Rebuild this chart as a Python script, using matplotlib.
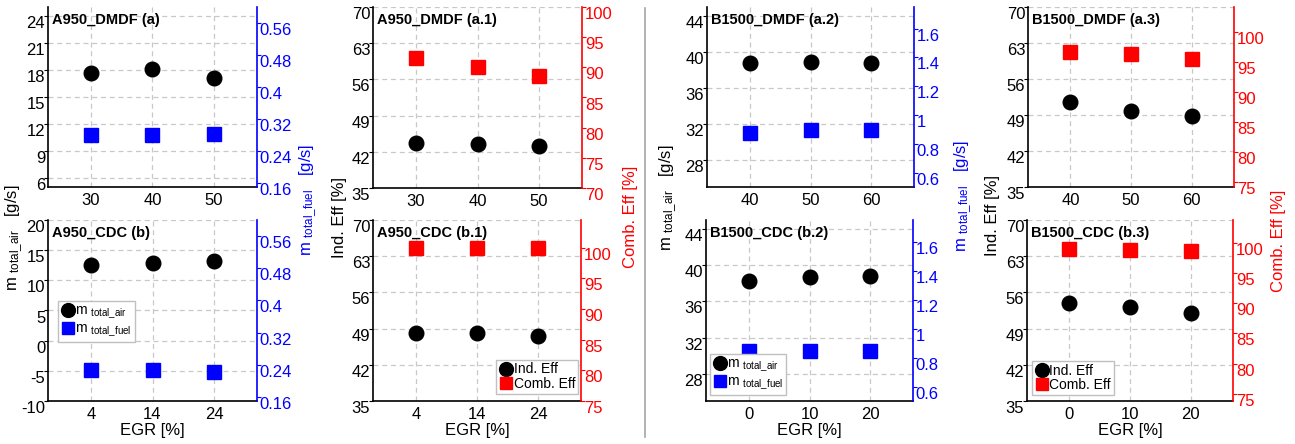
import numpy as np
import matplotlib
matplotlib.use("Agg")
import matplotlib.pyplot as plt
from matplotlib.lines import Line2D
from matplotlib.ticker import FuncFormatter

plt.rcParams['font.family'] = ['Liberation Sans', 'DejaVu Sans']
plt.rcParams['mathtext.fontset'] = 'custom'
plt.rcParams['mathtext.rm'] = 'Liberation Sans'
plt.rcParams['mathtext.it'] = 'Liberation Sans:italic'
plt.rcParams['mathtext.bf'] = 'Liberation Sans:bold'

# A950 DMDF
egr_a950_dmdf = [30, 40, 50]
air_a950_dmdf = [17.7, 18.1, 17.1]
fuel_a950_dmdf = [0.280, 0.280, 0.283]
ind_a950_dmdf = [43.75, 43.5, 43.2]
comb_a950_dmdf = [91.5, 90.0, 88.5]

# B1500 DMDF
egr_b1500_dmdf = [40, 50, 60]
air_b1500_dmdf = [38.8, 38.9, 38.8]
fuel_b1500_dmdf = [0.875, 0.896, 0.896]
ind_b1500_dmdf = [51.5, 49.8, 48.8]
comb_b1500_dmdf = [96.7, 96.4, 95.5]

# A950 CDC
egr_a950_cdc = [4, 14, 24]
air_a950_cdc = [12.5, 12.8, 13.2]
fuel_a950_cdc = [0.227, 0.226, 0.222]
ind_a950_cdc = [48.2, 48.2, 47.6]
comb_a950_cdc = [100.0, 100.0, 100.0]

# B1500 CDC
egr_b1500_cdc = [0, 10, 20]
air_b1500_cdc = [38.3, 38.7, 38.8]
fuel_b1500_cdc = [0.847, 0.847, 0.845]
ind_b1500_cdc = [53.9, 53.1, 52.1]
comb_b1500_cdc = [99.0, 98.8, 98.7]

AIR = r'm $_{\rm total\_air}$'
FUEL = r'm $_{\rm total\_fuel}$'

fig = plt.figure(figsize=(12.95, 4.44), dpi=100)
W, H = 1295.0, 444.0

fmt = FuncFormatter(lambda v, p: f'{round(v, 4):g}')


def panel(px, py, x, y_left, y_right, rcol, xlim, xticks, llim, lticks, rlim, rticks,
          title, names=None, leg_loc=None, leg_anchor=None, egr_label=False):
    # px, py = (left, right), (top, bottom) in pixels
    rect = [px[0] / W, 1 - py[1] / H, (px[1] - px[0]) / W, (py[1] - py[0]) / H]
    ax = fig.add_axes(rect)
    ax2 = ax.twinx()

    h1, = ax.plot(x, y_left, 'o', color='k', ms=10.5)
    h2, = ax2.plot(x, y_right, 's', color=rcol, ms=9.5)

    ax.set_xlim(xlim)
    ax.set_xticks(xticks)
    ax.set_ylim(llim)
    ax.set_yticks(lticks)
    ax2.set_ylim(rlim)
    ax2.set_yticks(rticks)
    ax.yaxis.set_major_formatter(fmt)
    ax2.yaxis.set_major_formatter(fmt)

    ax.grid(True, color='#c8c8c8', ls=(0, (4, 3)), lw=0.9)
    ax.set_axisbelow(True)

    ax.spines['top'].set_visible(False)
    ax.spines['right'].set_visible(False)
    ax2.spines['top'].set_visible(False)
    ax2.spines['left'].set_visible(False)
    ax2.spines['bottom'].set_visible(False)
    ax2.spines['right'].set_color(rcol)
    for sp in ('left', 'bottom'):
        ax.spines[sp].set_linewidth(1.2)
    ax2.spines['right'].set_linewidth(1.2)

    ax.tick_params(axis='x', length=0, pad=4, labelsize=12)
    ax.tick_params(axis='y', direction='out', length=3, pad=-1, labelsize=12)
    ax2.tick_params(axis='y', direction='out', length=3, pad=-1, labelsize=12,
                    colors=rcol)
    plt.setp(ax.get_yticklabels(), va='top')
    plt.setp(ax2.get_yticklabels(), va='top')

    ax.text(0.02, 0.965, title, transform=ax.transAxes, fontsize=10.5,
            fontweight='bold', va='top', ha='left', zorder=5)

    if egr_label:
        ax.set_xlabel('EGR [%]', fontsize=12, labelpad=1)

    if names is not None:
        leg = ax2.legend([h1, h2], names, loc=leg_loc, bbox_to_anchor=leg_anchor,
                         borderaxespad=0, fontsize=10, frameon=True, fancybox=False,
                         edgecolor='#c0c0c0', framealpha=1, handlelength=1.0,
                         handletextpad=0.05, borderpad=0.2, labelspacing=0.05,
                         markerscale=0.95)
        leg.get_frame().set_linewidth(1.0)
    return ax, ax2


# top row
panel((48, 257), (7, 187), egr_a950_dmdf, air_a950_dmdf, fuel_a950_dmdf, 'blue',
      (23, 57), [30, 40, 50], (5, 25), np.arange(6, 25, 3),
      (0.15, 0.6), np.arange(0.16, 0.57, 0.08), 'A950_DMDF (a)')
panel((373, 582), (7, 188), egr_a950_dmdf, ind_a950_dmdf, comb_a950_dmdf, 'red',
      (23, 57), [30, 40, 50], (35, 70), np.arange(35, 71, 7),
      (70, 100), np.arange(70, 101, 5), 'A950_DMDF (a.1)')
panel((707, 914), (7, 187), egr_b1500_dmdf, air_b1500_dmdf, fuel_b1500_dmdf, 'blue',
      (33, 67), [40, 50, 60], (25, 45), np.arange(28, 45, 4),
      (0.5, 1.75), np.arange(0.6, 1.61, 0.2), 'B1500_DMDF (a.2)')
panel((1028, 1234), (7, 187), egr_b1500_dmdf, ind_b1500_dmdf, comb_b1500_dmdf, 'red',
      (33, 67), [40, 50, 60], (35, 70), np.arange(35, 71, 7),
      (74.2, 104.2), np.arange(75, 101, 5), 'B1500_DMDF (a.3)')

# bottom row
panel((48, 257), (220, 401), egr_a950_cdc, air_a950_cdc, fuel_a950_cdc, 'blue',
      (-3, 31), [4, 14, 24], (-10, 20), np.arange(-10, 21, 5),
      (0.15, 0.6), np.arange(0.16, 0.57, 0.08), 'A950_CDC (b)',
      names=[AIR, FUEL], leg_loc='lower left', leg_anchor=(0.048, 0.326), egr_label=True)
panel((373, 581), (220, 401), egr_a950_cdc, ind_a950_cdc, comb_a950_cdc, 'red',
      (-3, 31), [4, 14, 24], (35, 70), np.arange(35, 71, 7),
      (75, 104.5), np.arange(75, 101, 5), 'A950_CDC (b.1)',
      names=['Ind. Eff', 'Comb. Eff'], leg_loc='lower right', leg_anchor=(0.986, 0.039),
      egr_label=True)
panel((706, 913), (220, 401), egr_b1500_cdc, air_b1500_cdc, fuel_b1500_cdc, 'blue',
      (-7, 27), [0, 10, 20], (25, 45), np.arange(28, 45, 4),
      (0.5, 1.75), np.arange(0.6, 1.61, 0.2), 'B1500_CDC (b.2)',
      names=[AIR, FUEL], leg_loc='lower left', leg_anchor=(0.019, 0.033), egr_label=True)
panel((1027, 1233), (220, 401), egr_b1500_cdc, ind_b1500_cdc, comb_b1500_cdc, 'red',
      (-7, 27), [0, 10, 20], (35, 70), np.arange(35, 71, 7),
      (73.8, 103.8), np.arange(75, 101, 5), 'B1500_CDC (b.3)',
      names=['Ind. Eff', 'Comb. Eff'], leg_loc='lower left', leg_anchor=(0.024, 0.033),
      egr_label=True)

# shared y labels between the rows
ylabels = [
    (14, 238, AIR + '   [g/s]', 'k'),
    (308, 200, FUEL + '   [g/s]', 'blue'),
    (340, 218, 'Ind. Eff [%]', 'k'),
    (630, 217, 'Comb. Eff [%]', 'red'),
    (668, 198, AIR + '   [g/s]', 'k'),
    (963, 196, FUEL + '   [g/s]', 'blue'),
    (993, 216, 'Ind. Eff [%]', 'k'),
    (1279, 241, 'Comb. Eff [%]', 'red'),
]
for x, y, s, c in ylabels:
    fig.text(x / W, 1 - y / H, s, rotation=90, ha='center', va='center',
             fontsize=12, color=c)

# divider between A950 and B1500 columns
fig.add_artist(Line2D([645 / W, 645 / W], [1 - 8 / H, 1 - 437 / H],
                      color='0.65', lw=1.2))

fig.savefig('out.png', dpi=100)
